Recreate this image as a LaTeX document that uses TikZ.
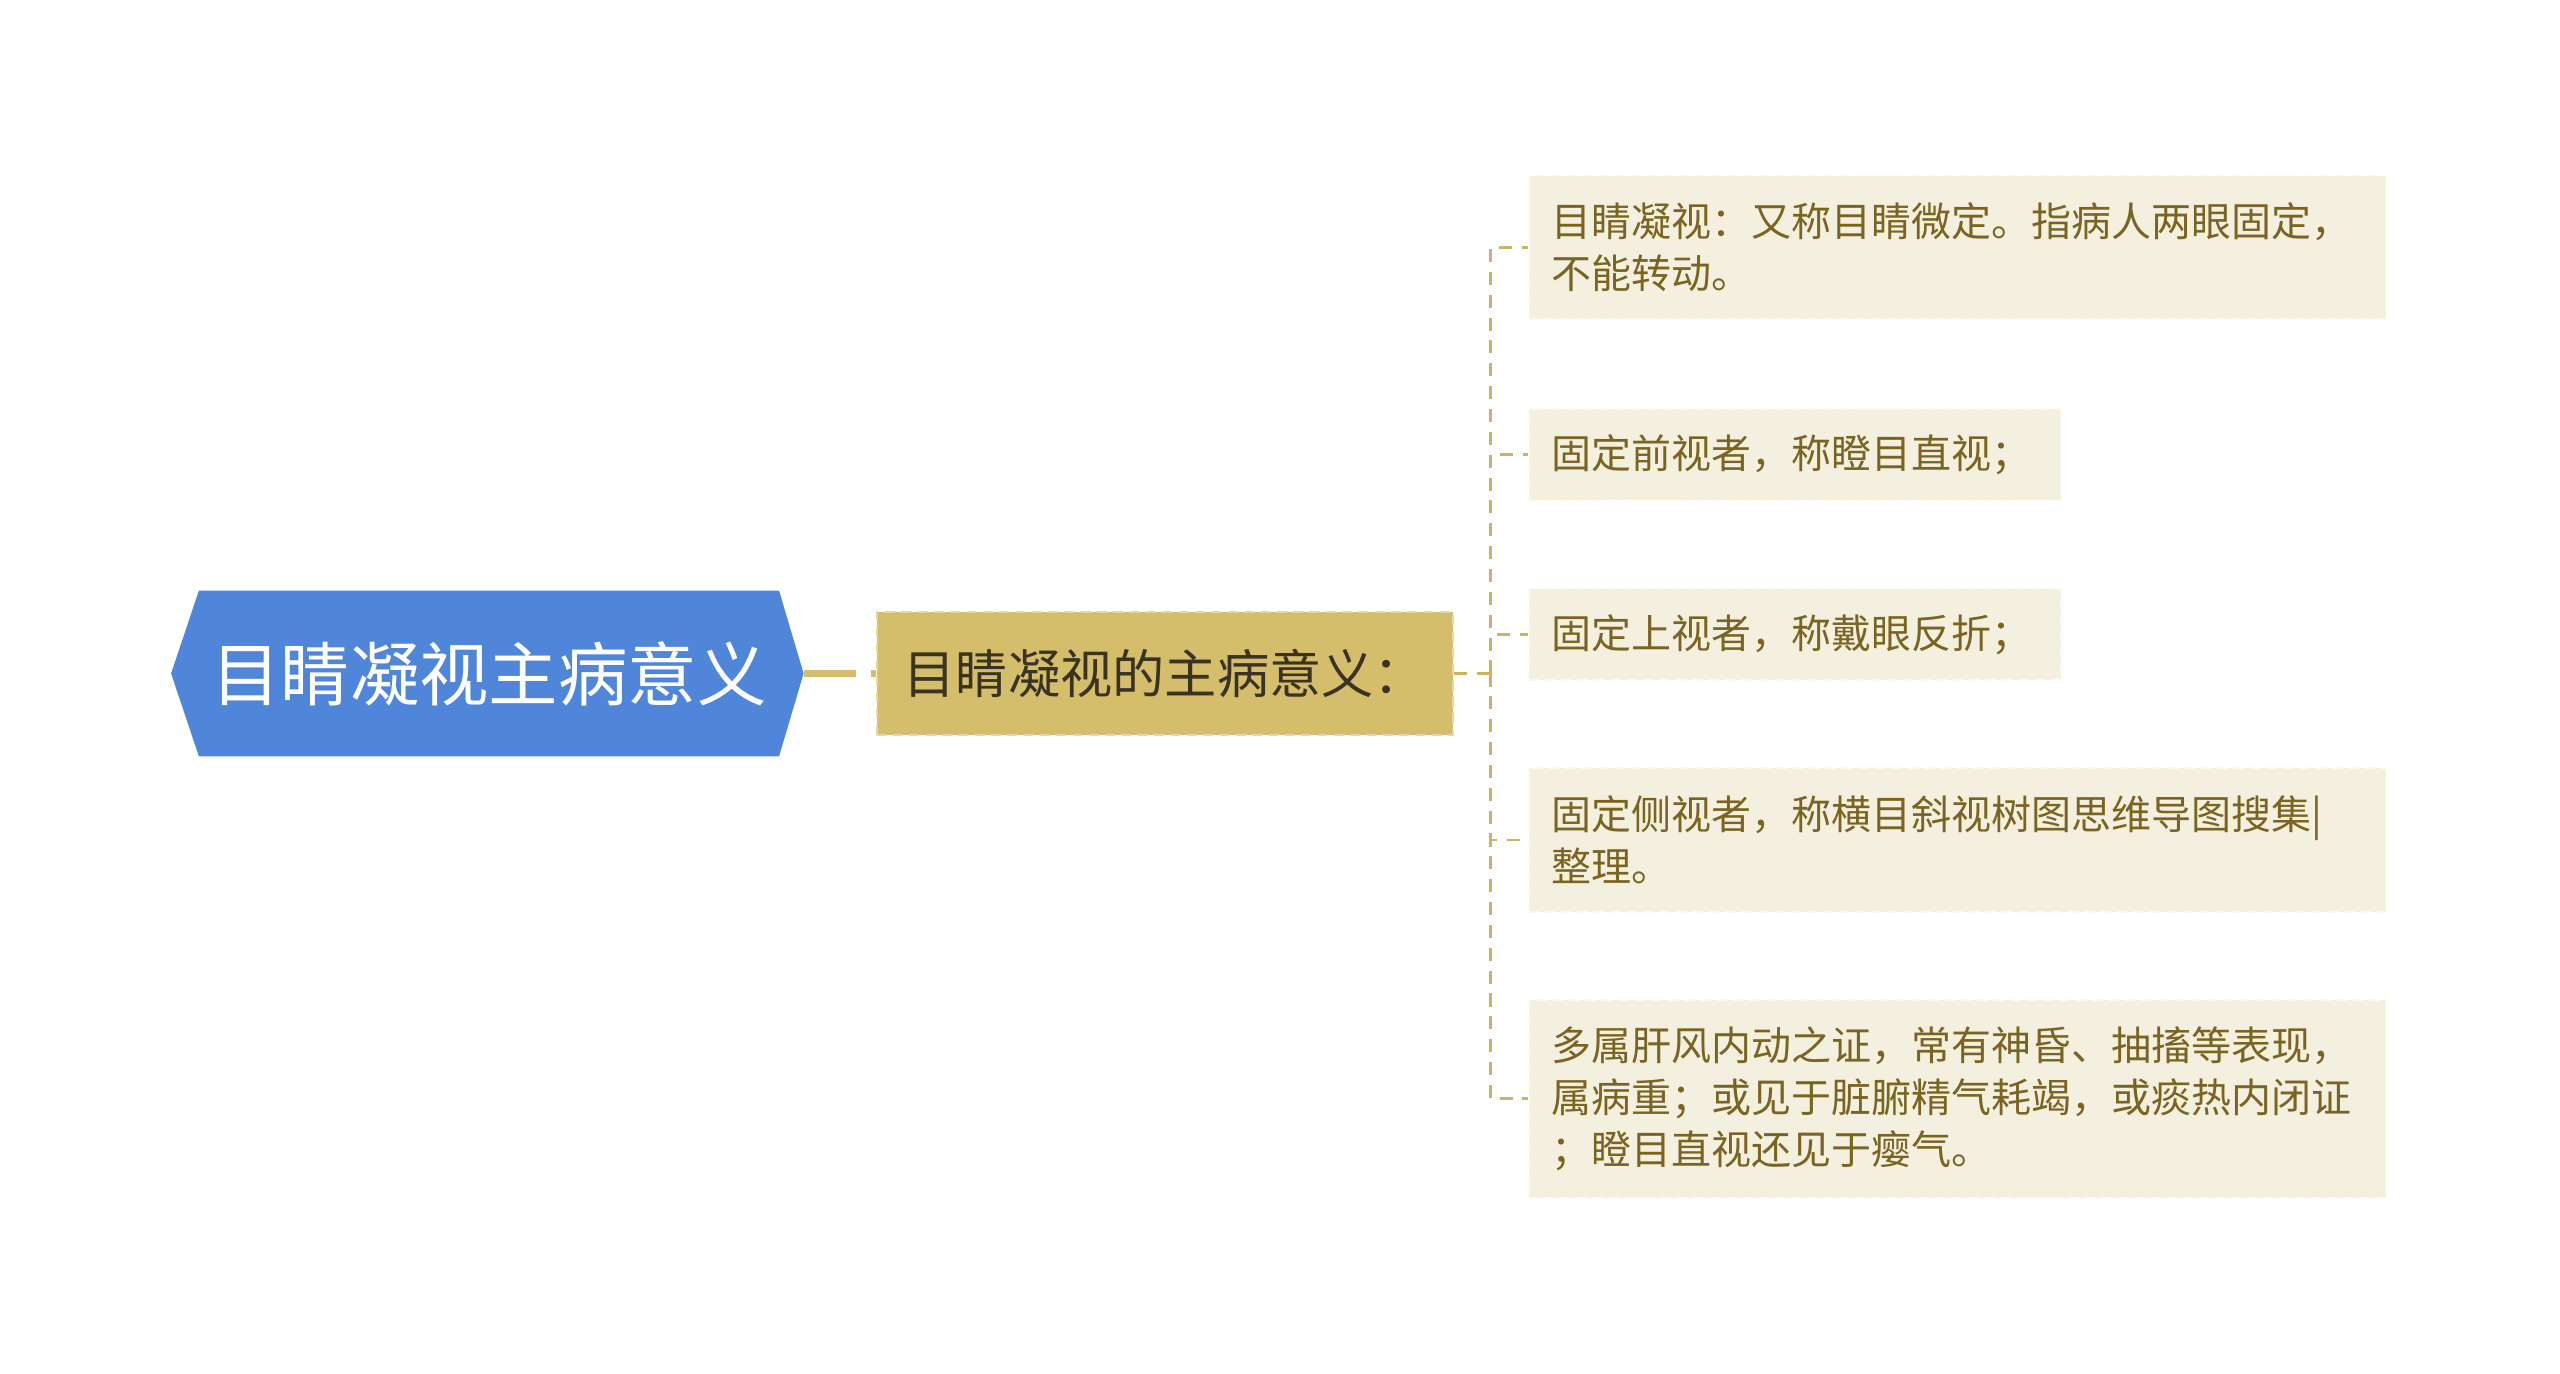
\documentclass[tikz,border=0pt]{standalone}
\usepackage{fontspec}
\setmainfont{Noto Sans CJK SC}
\usetikzlibrary{backgrounds,calc}
\definecolor{rootblue}{HTML}{4F86DA}
\definecolor{gold}{HTML}{D4BD6B}
\definecolor{linegold}{HTML}{CDB464}
\definecolor{goldedge}{HTML}{E6D8A2}
\definecolor{darktext}{HTML}{3A3322}
\definecolor{leafbg}{HTML}{F4F0DF}
\definecolor{leafedge}{HTML}{FBF9F0}
\definecolor{leaftext}{HTML}{7A6420}
\begin{document}
\begin{tikzpicture}[x=1pt,y=-1pt,
  rootnode/.style={minimum width=355pt, minimum height=101pt, inner sep=0pt, text=white, font=\fontsize{42.5}{50}\selectfont},
  topic/.style={fill=gold, draw=goldedge, dash pattern=on 6pt off 4pt, line width=1.2pt, minimum width=353pt, minimum height=75pt, inner sep=0pt, text=darktext, font=\fontsize{32}{38}\selectfont},
  leaf/.style={anchor=north west, fill=leafbg, draw=leafedge, dash pattern=on 6pt off 4pt, line width=1pt, inner xsep=14pt, inner ysep=0pt, align=left, text=leaftext, font=\fontsize{24.5}{32}\selectfont},
  thickconn/.style={draw=gold, line width=4.3pt, dash pattern=on 32pt off 9pt},
  conn/.style={draw=linegold, line width=1.7pt, dash pattern=on 8pt off 6pt}]
\useasboundingbox (0,0) rectangle (1568,841);

\node[rootnode] (root) at (299.5,412.5) {目睛凝视主病意义};
\begin{scope}[on background layer]
\fill[white] (0,0) rectangle (1568,841);
\fill[rootblue] (root.north west) -- (root.north east) -- ($(root.east)+(15,0)$) -- (root.south east) -- (root.south west) -- ($(root.west)+(-17,0)$) -- cycle;
\end{scope}
\coordinate (rtip) at ($(root.east)+(15,0)$);

\node[topic] (l1) at (713.5,412.5) {目睛凝视的主病意义：};

\node[leaf, text width=497pt, minimum height=88pt] (c1) at (936,107) {目睛凝视：又称目睛微定。指病人两眼固定，\\不能转动。};
\node[leaf, text width=298pt, minimum height=56pt] (c2) at (936,250) {固定前视者，称瞪目直视；};
\node[leaf, text width=298pt, minimum height=56pt] (c3) at (936,360) {固定上视者，称戴眼反折；};
\node[leaf, text width=497pt, minimum height=88pt] (c4) at (936,470) {固定侧视者，称横目斜视树图思维导图搜集|\\整理。};
\node[leaf, text width=497pt, minimum height=121pt] (c5) at (936,612) {多属肝风内动之证，常有神昏、抽搐等表现，\\属病重；或见于脏腑精气耗竭，或痰热内闭证\\；瞪目直视还见于瘿气。};

\draw[thickconn] (rtip) -- (l1.west);
\coordinate (bus) at (913,412.5);
\draw[conn] (l1.east) -- (bus);
\foreach \c in {c1,c2,c3,c4,c5}
  \draw[conn] (bus) |- (\c.west);
\end{tikzpicture}
\end{document}
